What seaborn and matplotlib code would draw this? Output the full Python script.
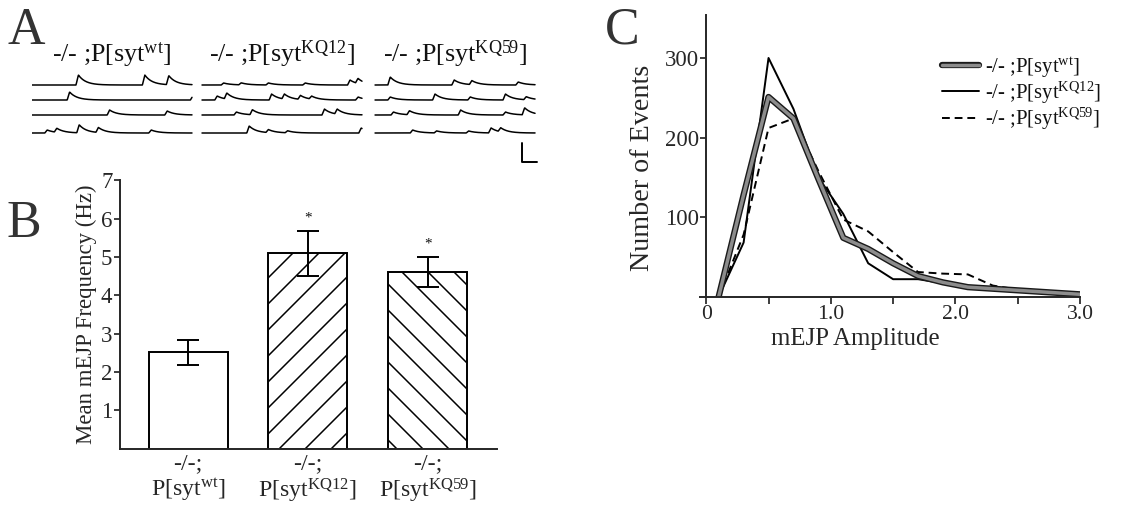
import numpy as np
import pandas as pd
import matplotlib
matplotlib.use("Agg")
import matplotlib.pyplot as plt
import seaborn as sns
from matplotlib.legend_handler import HandlerTuple

# -----------------------------------------------------------------
# DATA
# -----------------------------------------------------------------
genotypes = ["wt", "KQ12", "KQ59"]
group_titles = [r"-/- ;P[syt$^{\mathrm{wt}}$]",
                r"-/- ;P[syt$^{\mathrm{KQ12}}$]",
                r"-/- ;P[syt$^{\mathrm{KQ59}}$]"]
bar_labels = [r"-/-;" + "\n" + r"P[syt$^{\mathrm{wt}}$]",
              r"-/-;" + "\n" + r"P[syt$^{\mathrm{KQ12}}$]",
              r"-/-;" + "\n" + r"P[syt$^{\mathrm{KQ59}}$]"]

# panel B: mean mEJP frequency (Hz) with error bar ends
freq_mean = [2.52, 5.10, 4.60]
freq_low = [2.17, 4.50, 4.22]
freq_high = [2.83, 5.69, 5.01]
significant = [False, True, True]

# panel C: amplitude distribution
amp_bins = [0.1, 0.3, 0.5, 0.7, 0.9, 1.1, 1.3, 1.5, 1.7, 1.9, 2.1, 2.3, 2.5, 2.7, 2.9, 3.0]
events_wt = [0, 128, 251, 224, 148, 74, 60, 42, 26, 18, 12, 10, 8, 6, 4, 3]
events_kq12 = [0, 68, 300, 236, 150, 104, 42, 22, 22, 17, 12, 10, 8, 6, 4, 3]
events_kq59 = [0, 78, 212, 224, 158, 97, 82, 56, 31, 29, 28, 14, 9, 6, 4, 3]

# panel A: spontaneous events per sweep (position along sweep, size in px)
traces_wt = [
    [(0.275, 10), (0.69, 10), (0.84, 9)],
    [(0.22, 8), (0.99, 4)],
    [(0.47, 5), (0.83, 4)],
    [(0.08, 3), (0.14, 4), (0.28, 8), (0.40, 5), (0.73, 3)],
]
traces_kq12 = [
    [(0.12, 2), (0.23, 2), (0.40, 2), (0.63, 2), (0.91, 5), (0.96, 5)],
    [(0.08, 4), (0.14, 6), (0.42, 6), (0.50, 5), (0.60, 4), (0.67, 3), (0.96, 3)],
    [(0.20, 3), (0.30, 5), (0.75, 6), (0.83, 5)],
    [(0.28, 7), (0.40, 3), (0.52, 2), (0.98, 5)],
]
traces_kq59 = [
    [(0.08, 8), (0.48, 5), (0.59, 4), (0.88, 3)],
    [(0.08, 3), (0.36, 6), (0.58, 3), (0.80, 6), (0.93, 3)],
    [(0.10, 3), (0.20, 4), (0.52, 5), (0.80, 3), (0.92, 7)],
    [(0.22, 3), (0.37, 2), (0.57, 2), (0.71, 5), (0.77, 4)],
]

# -----------------------------------------------------------------
# STYLE
# -----------------------------------------------------------------
sns.set_style("ticks")
plt.rcParams["font.family"] = ["Liberation Serif", "DejaVu Serif"]
plt.rcParams["mathtext.fontset"] = "custom"
plt.rcParams["mathtext.rm"] = "Liberation Serif"
plt.rcParams["mathtext.it"] = "Liberation Serif:italic"
plt.rcParams["mathtext.bf"] = "Liberation Serif:bold"
plt.rcParams["hatch.linewidth"] = 0.7
plt.rcParams["axes.linewidth"] = 0.9
plt.rcParams["text.color"] = "#111111"

W, H, DPI = 1124, 506, 156
fig = plt.figure(figsize=(W / DPI, H / DPI), dpi=DPI)
fig.patch.set_facecolor("white")


def px_axes(left, top, right, bottom):
    return fig.add_axes([left / W, 1 - bottom / H, (right - left) / W, (bottom - top) / H])


# -----------------------------------------------------------------
# PANEL A: example traces
# -----------------------------------------------------------------
ax_a = px_axes(32, 45, 544, 175)
t = np.linspace(0, 1, 500)
group_offsets = [0.0, 1.0625, 2.144]
row_baselines = [85, 100, 115, 133]
rows = []
for g, traces in enumerate([traces_wt, traces_kq12, traces_kq59]):
    for r, events in enumerate(traces):
        sig = np.zeros_like(t)
        for pos, amp in events:
            d = t - pos
            rise = np.clip(d / 0.015, 0, 1)
            decay = np.where(d > 0.015, np.exp(-(d - 0.015) / 0.045), 1.0)
            sig += amp * rise * decay
        rows.append(pd.DataFrame({"x": group_offsets[g] + t,
                                  "y": -row_baselines[r] + sig,
                                  "trace": f"{g}-{r}"}))
trace_df = pd.concat(rows, ignore_index=True)
sns.lineplot(data=trace_df, x="x", y="y", units="trace", estimator=None,
             color="black", lw=0.7, ax=ax_a, legend=False)
for g, title in enumerate(group_titles):
    ax_a.text(group_offsets[g] + 0.5, -62, title, ha="center", va="baseline", fontsize=12)
# scale bar
ax_a.plot([3.0625, 3.0625, 3.156], [-143, -162, -162], color="black", lw=0.9)
ax_a.set_xlim(0, 3.2)
ax_a.set_ylim(-175, -45)
ax_a.axis("off")

# -----------------------------------------------------------------
# PANEL B: bar chart
# -----------------------------------------------------------------
ax_b = px_axes(120, 180.4, 497, 448.5)
bar_df = pd.DataFrame({"genotype": bar_labels, "freq": freq_mean})
sns.barplot(data=bar_df, x="genotype", y="freq", color="white", edgecolor="black",
            linewidth=0.9, width=0.66, errorbar=None, ax=ax_b)
for patch, hatch in zip(ax_b.patches, [None, "//", "\\\\"]):
    patch.set_facecolor("white")
    if hatch:
        patch.set_hatch(hatch)
xs = np.arange(len(freq_mean))
lower = np.array(freq_mean) - np.array(freq_low)
upper = np.array(freq_high) - np.array(freq_mean)
ax_b.errorbar(xs, freq_mean, yerr=[lower, upper], fmt="none", ecolor="black",
              elinewidth=0.9, capsize=5, capthick=0.9)
for i, sig in enumerate(significant):
    if sig:
        ax_b.text(i, freq_high[i] + 0.32, "*", ha="center", va="center", fontsize=7)
ax_b.set_xlim(-0.57, 2.58)
ax_b.set_ylim(0, 7)
ax_b.set_yticks([1, 2, 3, 4, 5, 6, 7])
ax_b.tick_params(axis="y", labelsize=10.5, length=3, width=0.8, pad=0.5)
ax_b.tick_params(axis="x", labelsize=11, length=0, pad=2)
ax_b.set_xlabel("")
ax_b.set_ylabel("Mean mEJP Frequency (Hz)", fontsize=10.5, labelpad=2)
for lbl in ax_b.get_xticklabels():
    lbl.set_linespacing(1.15)
sns.despine(ax=ax_b)

# -----------------------------------------------------------------
# PANEL C: amplitude histogram
# -----------------------------------------------------------------
ax_c = px_axes(700, 15, 1080, 296.7)
hist_df = pd.DataFrame({"amp": amp_bins * 3,
                        "n": events_wt + events_kq12 + events_kq59,
                        "genotype": ["wt"] * len(amp_bins) + ["KQ12"] * len(amp_bins)
                        + ["KQ59"] * len(amp_bins)})
sub = hist_df[hist_df.genotype == "KQ59"]
sns.lineplot(data=sub, x="amp", y="n", color="black", lw=0.9, ax=ax_c, legend=False)
ax_c.lines[-1].set_dashes((4, 2.5))
sub = hist_df[hist_df.genotype == "KQ12"]
sns.lineplot(data=sub, x="amp", y="n", color="black", lw=0.9, ax=ax_c, legend=False)
sub = hist_df[hist_df.genotype == "wt"]
sns.lineplot(data=sub, x="amp", y="n", color="#1a1a1a", lw=2.9, ax=ax_c, legend=False)
sns.lineplot(data=sub, x="amp", y="n", color="#8c8c8c", lw=1.6, ax=ax_c, legend=False)
l59, l12, lwb, lwg = ax_c.get_lines()[-4:]

ax_c.legend([(lwb, lwg), l12, l59], group_titles,
            handler_map={tuple: HandlerTuple(ndivide=1)},
            loc="upper left", bbox_to_anchor=(942 / W, 1 - 55 / H),
            bbox_transform=fig.transFigure, frameon=False, fontsize=9.5,
            handlelength=1.8, handletextpad=0.3, labelspacing=0.0,
            borderpad=0, borderaxespad=0)

ax_c.set_xlim(-0.05, 3.0)
ax_c.set_ylim(0, 354)
ax_c.spines["left"].set_position(("data", 0))
ax_c.set_xticks([0, 1, 2, 3])
ax_c.set_xticklabels(["0", "1.0", "2.0", "3.0"])
ax_c.set_xticks([0.5, 1.5, 2.5], minor=True)
ax_c.set_yticks([100, 200, 300])
ax_c.tick_params(axis="y", which="major", labelsize=10.5, length=3, width=0.8, pad=0.5)
ax_c.tick_params(axis="x", which="major", labelsize=10, length=3, width=0.8, pad=0.8)
ax_c.tick_params(axis="x", which="minor", length=3, width=0.8)
ax_c.set_xlabel("mEJP Amplitude", fontsize=11.5, labelpad=1)
ax_c.set_ylabel("Number of Events", fontsize=13, labelpad=3)
ax_c.yaxis.set_label_coords(-0.118, 0.457)
ax_c.xaxis.set_label_coords(0.41, -0.11)
sns.despine(ax=ax_c)

# panel letters
for letter, x, y in [("A", 7, 44), ("B", 7, 237), ("C", 605, 44)]:
    fig.text(x / W, 1 - y / H, letter, fontsize=24, va="baseline", ha="left", color="#333333")

fig.savefig("out.png", dpi=DPI, facecolor="white")
